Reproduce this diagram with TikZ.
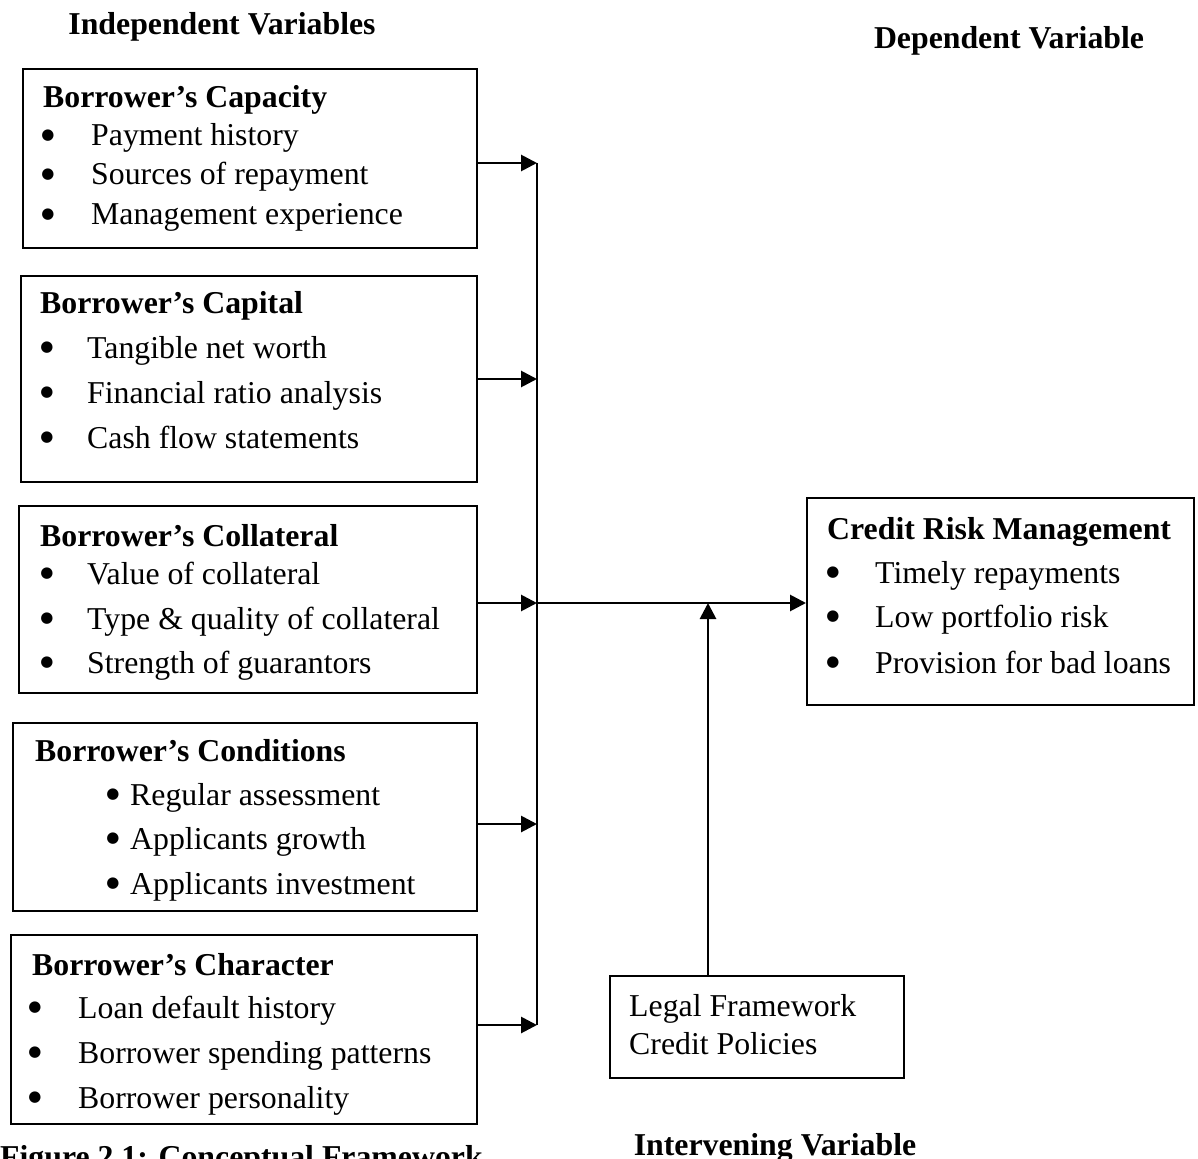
\documentclass[tikz,border=0pt]{standalone}
\usepackage{fontspec}
\setmainfont{Liberation Serif}
\newfontfamily\symfont{DejaVu Sans}
\usetikzlibrary{arrows.meta}
\begin{document}
\begin{tikzpicture}[x=1pt,y=-1pt,
 box/.style={draw, line width=2pt, inner sep=0pt, anchor=north west},
 txt/.style={anchor=base west, inner sep=0pt, font=\fontsize{31.8}{38}\selectfont},
 ttl/.style={anchor=base west, inner sep=0pt, font=\fontsize{31.8}{38}\selectfont\bfseries},
 hdg/.style={anchor=base, inner sep=0pt, font=\fontsize{31.8}{38}\selectfont\bfseries},
 bul/.style={anchor=center, inner sep=0pt, yshift=10pt, font=\symfont\fontsize{15}{15}\selectfont},
 conn/.style={line width=2.8pt},
 arr/.style={conn, -{Triangle[length=16pt,width=16pt]}}]
\path[use as bounding box] (0,0) rectangle (1198,1158);
\clip (0,0) rectangle (1198,1158);

% headings
\node[hdg] (hind) at (222,35) {Independent Variables};
\node[hdg] (hdep) at (1009,49) {Dependent Variable};
\node[hdg] (hint) at (775,1155) {Intervening Variable};
\node[ttl] (cap) at (0,1167) {Figure 2.1: Conceptual Framework};

% box 1
\node[box, minimum width=454pt, minimum height=179pt] (b1) at (22,68) {};
\node[ttl] (b1t) at (43,108) {Borrower’s Capacity};
\foreach \yy/\tt [count=\i] in {146/Payment history,185/Sources of repayment,225/Management experience}{
  \node[bul] (b1b\i) at (48,\yy) {●};
  \node[txt] (b1i\i) at (91,\yy) {\tt};}

% box 2
\node[box, minimum width=456pt, minimum height=206pt] (b2) at (20,275) {};
\node[ttl] (b2t) at (40,313) {Borrower’s Capital};
\foreach \yy/\tt [count=\i] in {358/Tangible net worth,403/Financial ratio analysis,448/Cash flow statements}{
  \node[bul] (b2b\i) at (47,\yy) {●};
  \node[txt] (b2i\i) at (87,\yy) {\tt};}

% box 3
\node[box, minimum width=458pt, minimum height=187pt] (b3) at (18,505) {};
\node[ttl] (b3t) at (40,546) {Borrower’s Collateral};
\foreach \yy/\tt [count=\i] in {584/Value of collateral,629/Type \& quality of collateral,673/Strength of guarantors}{
  \node[bul] (b3b\i) at (47,\yy) {●};
  \node[txt] (b3i\i) at (87,\yy) {\tt};}

% box 4
\node[box, minimum width=464pt, minimum height=188pt] (b4) at (12,722) {};
\node[ttl] (b4t) at (35,761) {Borrower’s Conditions};
\foreach \yy/\tt [count=\i] in {805/Regular assessment,849/Applicants growth,894/Applicants investment}{
  \node[bul] (b4b\i) at (113,\yy) {●};
  \node[txt] (b4i\i) at (130,\yy) {\tt};}

% box 5
\node[box, minimum width=466pt, minimum height=189pt] (b5) at (10,934) {};
\node[ttl] (b5t) at (32,975) {Borrower’s Character};
\foreach \yy/\tt [count=\i] in {1018/Loan default history,1063/Borrower spending patterns,1108/Borrower personality}{
  \node[bul] (b5b\i) at (35,\yy) {●};
  \node[txt] (b5i\i) at (78,\yy) {\tt};}

% dependent box
\node[box, minimum width=387pt, minimum height=207pt] (crm) at (806,497) {};
\node[ttl] (crmt) at (827,539) {Credit Risk Management};
\foreach \yy/\tt [count=\i] in {583/Timely repayments,627/Low portfolio risk,673/Provision for bad loans}{
  \node[bul] (crmb\i) at (833,\yy) {●};
  \node[txt] (crmi\i) at (875,\yy) {\tt};}

% intervening box
\node[box, minimum width=294pt, minimum height=102pt] (leg) at (609,975) {};
\node[txt] (leg1) at (629,1016) {Legal Framework};
\node[txt] (leg2) at (629,1054) {Credit Policies};

% connectors
\coordinate (j1) at (537,163);
\coordinate (j2) at (537,379);
\coordinate (j3) at (537,603);
\coordinate (j4) at (537,824);
\coordinate (j5) at (537,1025);
\coordinate (jl) at (708,603);
\draw[arr] (b1.east |- j1) -- (j1);
\draw[arr] (b2.east |- j2) -- (j2);
\draw[arr] (b3.east |- j3) -- (j3);
\draw[arr] (b4.east |- j4) -- (j4);
\draw[arr] (b5.east |- j5) -- (j5);
\draw[conn] (j1) -- (j5);
\draw[arr] (j3) -- (crm.west |- j3);
\draw[arr] (leg.north -| jl) -- (jl);
\end{tikzpicture}
\end{document}
